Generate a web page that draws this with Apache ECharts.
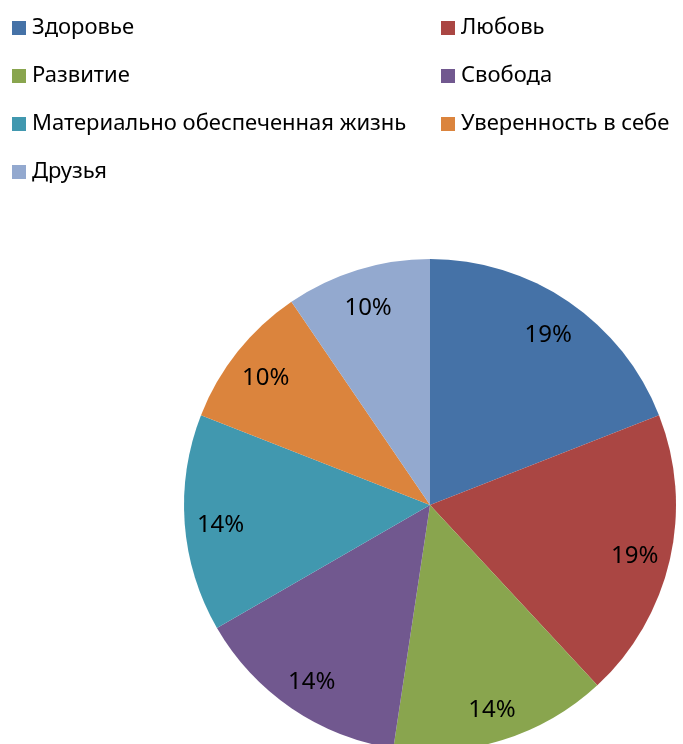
<!DOCTYPE html>
<html>
<head>
<meta charset="utf-8">
<script src="https://cdn.jsdelivr.net/npm/echarts@6/dist/echarts.min.js"></script>
<style>
  html, body { margin: 0; padding: 0; background: #fff; }
  #chart { width: 683px; height: 744px; }
</style>
</head>
<body>
<div id="chart"></div>
<script>
const categories = ["Здоровье", "Любовь", "Развитие", "Свобода",
  "Материально обеспеченная жизнь", "Уверенность в себе", "Друзья"];
const values = [4, 4, 3, 3, 3, 2, 2];
const colors = ["#4572A7", "#AA4643", "#89A54E", "#71588F", "#4198AF", "#DB843D", "#93A9CF"];

const leftNames = categories.filter((_, i) => i % 2 === 0);
const rightNames = categories.filter((_, i) => i % 2 === 1);
const data = categories.map((name, i) => ({ name, value: values[i] }));

const font = "'Noto Sans', sans-serif";
const legendBase = {
  orient: "vertical",
  top: 16,
  padding: 0,
  icon: "rect",
  itemWidth: 14,
  itemHeight: 14,
  itemGap: 24,
  selectedMode: false,
  textStyle: { fontFamily: font, fontSize: 22, lineHeight: 24, color: "#000", padding: [0, 0, 0, 1] },
};

const chart = echarts.init(document.getElementById("chart"));
chart.setOption({
  color: colors,
  animation: false,
  legend: [
    { ...legendBase, left: 12, data: leftNames },
    { ...legendBase, left: 441, data: rightNames },
  ],
  series: [
    {
      type: "pie",
      center: [430, 505],
      radius: [0, 246],
      startAngle: 90,
      clockwise: true,
      label: { show: false },
      labelLine: { show: false },
      data,
    },
    {
      // transparent ring only used to place the percent labels further out
      type: "pie",
      center: [430, 505],
      radius: [168, 246],
      startAngle: 90,
      clockwise: true,
      silent: true,
      itemStyle: { color: "transparent" },
      label: {
        show: true,
        position: "inside",
        formatter: (p) => Math.round(p.percent) + "%",
        fontFamily: font,
        fontSize: 24,
        color: "#000",
        offset: [0, 4],
      },
      labelLine: { show: false },
      data,
    },
  ],
});
</script>
</body>
</html>
